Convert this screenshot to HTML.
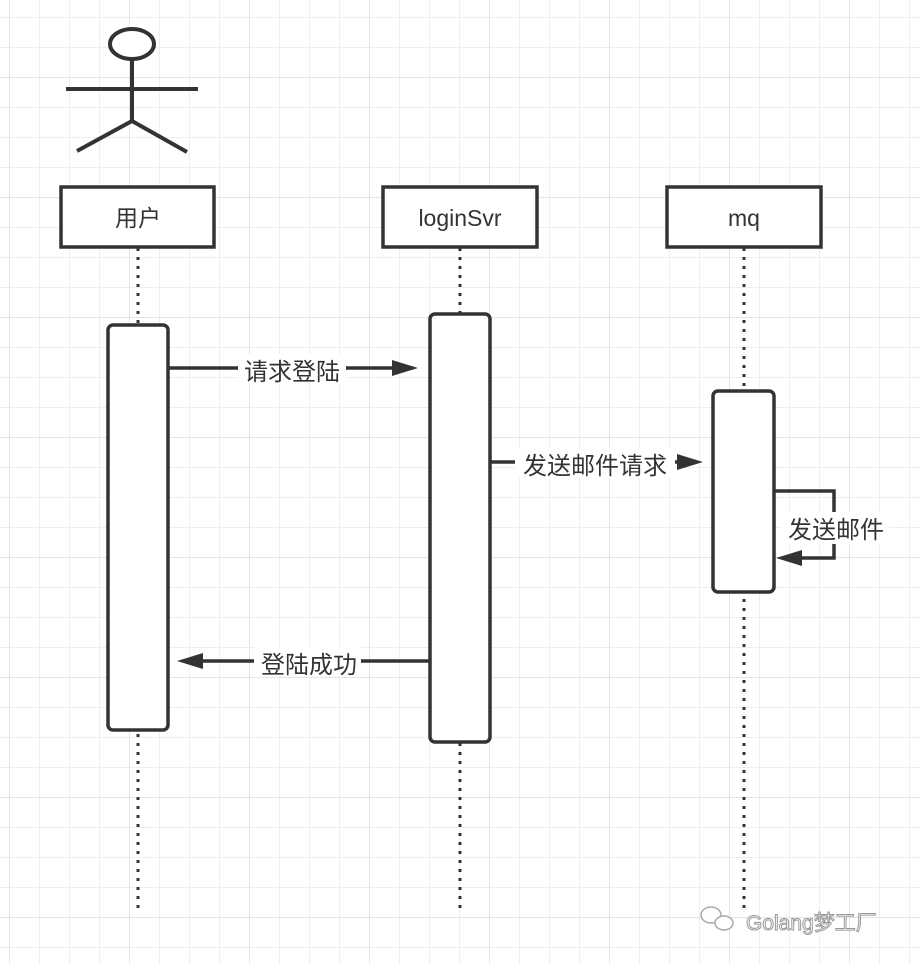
<!DOCTYPE html>
<html><head><meta charset="utf-8"><style>
html,body{margin:0;padding:0;background:#fff}
svg{display:block}
text{font-family:"Liberation Sans","Noto Sans CJK SC",sans-serif;fill:#333}
</style></head><body>
<svg width="920" height="964" viewBox="0 0 920 964" xmlns="http://www.w3.org/2000/svg">
<defs>
<pattern id="g" x="9" y="17" width="30" height="30" patternUnits="userSpaceOnUse">
<path d="M0 0H30M0 0V30" stroke="#eeeeee" stroke-width="2" fill="none"/>
</pattern>
<pattern id="G" x="9" y="77" width="120" height="120" patternUnits="userSpaceOnUse">
<path d="M0 0H120M0 0V120" stroke="#e4e4e4" stroke-width="2" fill="none"/>
</pattern>
</defs>
<rect width="920" height="964" fill="url(#g)"/>
<rect width="920" height="964" fill="url(#G)"/>
<g stroke="#333" stroke-width="4" fill="none">
<ellipse cx="132" cy="44" rx="22" ry="15" fill="#fff"/>
<path d="M66 89H198M132 59V121L77 151M132 121L187 152"/>
</g>
<g stroke="#333" stroke-width="3" stroke-dasharray="3 6" fill="none">
<path d="M138 248V912M460 248V912M744 248V912"/>
</g>
<g stroke="#333" stroke-width="3.5" fill="#fff">
<rect x="61" y="187" width="153" height="60"/>
<rect x="383" y="187" width="154" height="60"/>
<rect x="667" y="187" width="154" height="60"/>
<rect x="108" y="325" width="60" height="405" rx="5"/>
<rect x="430" y="314" width="60" height="428" rx="5"/>
<rect x="713" y="391" width="61" height="201" rx="5"/>
</g>
<g font-size="23" text-anchor="middle">
<text x="138" y="226">用户</text>
<text x="460" y="226">loginSvr</text>
<text x="744" y="226">mq</text>
</g>
<g stroke="#333" stroke-width="3.5" fill="none">
<path d="M168 368H395M490 462H680M774 491H834V558H800M430 661H200"/>
</g>
<g fill="#333">
<path d="M418 368L392 360V376Z"/>
<path d="M703 462L677 454V470Z"/>
<path d="M776 558L802 550V566Z"/>
<path d="M177 661L203 653V669Z"/>
</g>
<g font-size="24" text-anchor="middle">
<rect x="238" y="354" width="108" height="30" fill="#fff"/>
<text x="292" y="380">请求登陆</text>
<rect x="515" y="448" width="160" height="30" fill="#fff"/>
<text x="595" y="474">发送邮件请求</text>
<rect x="781" y="512" width="108" height="32" fill="#fff"/>
<text x="836" y="538">发送邮件</text>
<rect x="254" y="647" width="107" height="30" fill="#fff"/>
<text x="309" y="673">登陆成功</text>
</g>
<g fill="#fff" stroke="#aaa" stroke-width="1.5">
<ellipse cx="711" cy="915" rx="10" ry="8"/>
<ellipse cx="724" cy="923" rx="9" ry="7"/>
</g>
<text x="746" y="930" font-size="21" style="fill:#fff;stroke:#999;stroke-width:1">Golang梦工厂</text>
</svg>
</body></html>
